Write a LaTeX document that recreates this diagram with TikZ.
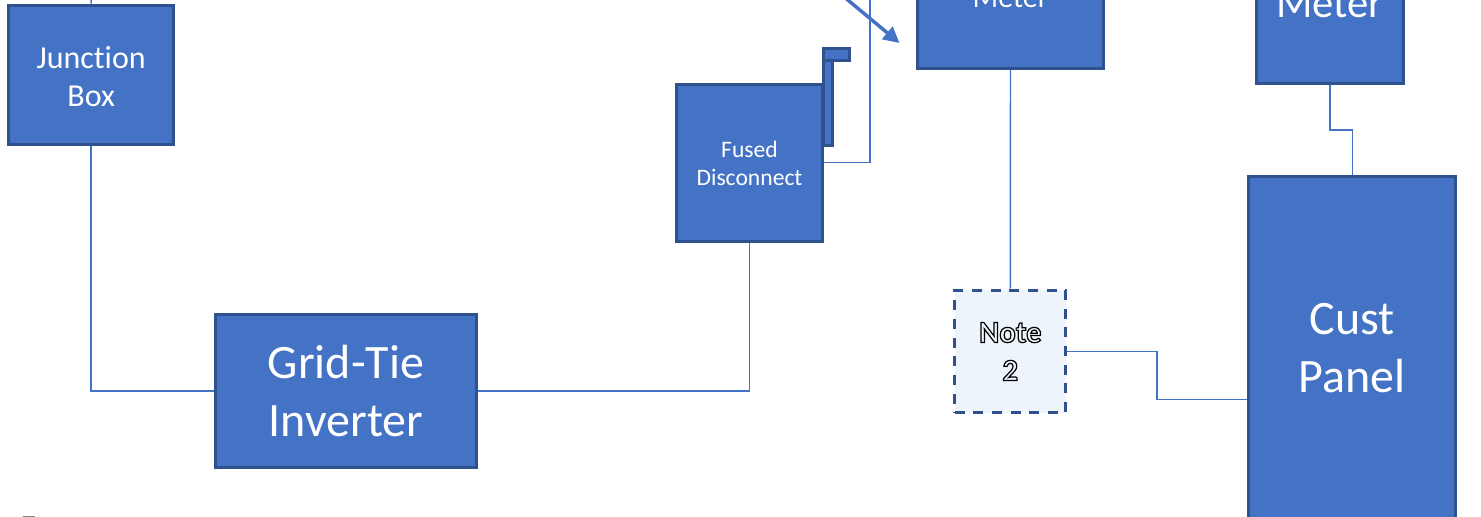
\documentclass[tikz,border=0pt]{standalone}
\usepackage{fontspec}
\setmainfont{Carlito}[Ligatures=NoCommon]
\usetikzlibrary{arrows.meta}
\definecolor{boxblue}{HTML}{4472C4}
\definecolor{boxedge}{HTML}{2F528F}
\definecolor{notefill}{HTML}{EDF4FB}
\tikzset{
    boxnode/.style={draw=boxedge, fill=boxblue, line width=2.25pt, text=white, align=center, inner sep=0pt},
    notenode/.style={draw=boxedge, fill=notefill, line width=2.25pt, dash pattern=on 7.5pt off 6.5pt, align=center, inner sep=0pt},
    wire/.style={draw=boxblue, line width=1.1pt},
    flagpart/.style={draw=boxedge, fill=boxblue, line width=2.25pt}
}
\newcommand{\hollow}[1]{\special{pdf:code q 0 G 1 Tr 0.9 w}#1\special{pdf:code Q}}
\begin{document}
\begin{tikzpicture}[x=0.75pt, y=-0.75pt]
    \path[use as bounding box, clip] (0,0) rectangle (1481,517);
    \fill[white] (0,0) rectangle (1481,517);
    \fill[gray] (23,515.5) rectangle (35,517);

    \draw[flagpart] (823.5,48.5) rectangle (832,145.5);
    \draw[flagpart] (823.5,48.5) rectangle (849,61);

    \node[boxnode, minimum width=123.5pt, minimum height=104.7pt, font=\fontsize{24}{28.5}\selectfont] (junction) at (91.2,75) {\rule{0pt}{18.5pt}Junction\\Box};
    \node[boxnode, minimum width=196pt, minimum height=115pt, font=\fontsize{36}{43.5}\selectfont] (inverter) at (346,391) {Grid-Tie\\Inverter};
    \node[boxnode, minimum width=109.5pt, minimum height=117.75pt, font=\fontsize{17.7}{21}\selectfont] (fused) at (749.5,162.7) {\rule{0pt}{14pt}Fused\\Disconnect};
    \node[boxnode, minimum width=140pt, minimum height=106.5pt, font=\fontsize{22.5}{27}\selectfont] (meterA) at (1010.5,-2.5) {Meter};
    \node[boxnode, minimum width=110pt, minimum height=120pt, font=\fontsize{32}{38}\selectfont] (meterB) at (1330,3.5) {Meter};
    \node[boxnode, minimum width=155.25pt, minimum height=257pt, font=\fontsize{36}{43.5}\selectfont] (cust) at (1352.3,348) {\rule{0pt}{24pt}Cust\\Panel};
    \node[notenode, minimum width=83.25pt, minimum height=92pt, font=\fontsize{23}{28.5}\selectfont\bfseries] (note) at (1010.3,351.5) {\hollow{Note}\\\hollow{2}};

    \coordinate (junctiontop) at (91,-5);
    \coordinate (fusedtop) at (870,-5);
    \coordinate (arrowstart) at (843,-4);
    \coordinate (arrowend) at (899.5,43);

    \draw[wire] (junctiontop) -- (junction.north);
    \draw[wire] (junction.south) -- (91.2,391) -- (inverter.west);
    \draw[wire] (inverter.east) -- (749.5,391) -- (fused.south);
    \draw[wire] (fused.east) -- (870,162.7) -- (fusedtop);
    \draw[wire] (meterA.south) -- (note.north);
    \draw[wire] (note.east) -- (1157,351.5) -- (1157,399.5) -- (cust.west |- 1157,399.5);
    \draw[wire] (meterB.south) -- (1330,130) -- (1352.3,130) -- (cust.north);
    \draw[boxblue, line width=2.6pt, -{Triangle[length=12pt, width=12pt]}] (arrowstart) -- (arrowend);
\end{tikzpicture}
\end{document}
